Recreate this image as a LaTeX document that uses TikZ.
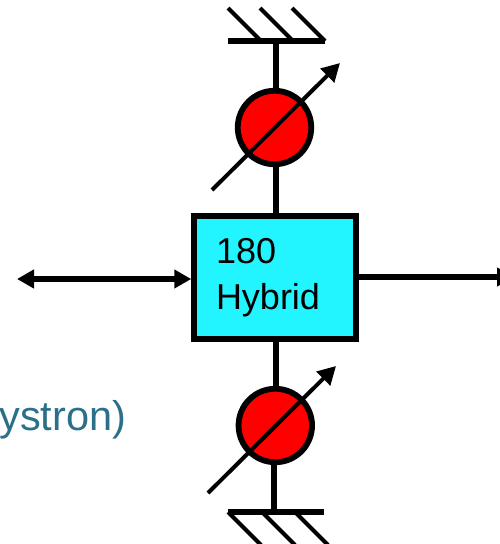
\documentclass[tikz,border=0pt]{standalone}
\usepackage{fontspec}
\setmainfont{Liberation Sans}
\usetikzlibrary{arrows.meta, positioning, calc}

\definecolor{hybridcyan}{HTML}{22F5FF}
\definecolor{labelteal}{HTML}{2A7089}

\begin{document}
\begin{tikzpicture}[
      x=1pt, y=-1pt,
      block/.style={draw, line width=5.5pt, rectangle, fill=hybridcyan, minimum width=162pt, minimum height=123pt, inner xsep=22pt, inner ysep=0pt, text width=118pt, align=left, font=\fontsize{36}{46}\selectfont},
      shifter/.style={draw, line width=5.8pt, circle, fill=red, minimum size=73.5pt, inner sep=0pt},
      stem/.style={line width=6pt},
      bar/.style={line width=6pt},
      hatch/.style={line width=4pt},
      tune/.style={-{Triangle[length=18pt, width=19pt]}, line width=4pt},
      port/.style={line width=5.5pt}
    ]
      \clip (0,0) rectangle (500,544);

      % Main block
      \node (hybrid) [block] at (275,277.5) {180\\Hybrid};

      % Phase shifters
      \node (phaseup) [shifter] at (274.5,127.5) {};
      \node (phasedown) [shifter] at (275.3,425.5) {};

      % Shorted ends
      \coordinate (wallup) at (276,41);
      \coordinate (walldown) at (274,512);

      \draw[bar] ($(wallup)+(-48,0)$) -- ($(wallup)+(49,0)$);
      \draw[bar] ($(walldown)+(-46,0)$) -- ($(walldown)+(50,0)$);
      \foreach \dx in {-48,-16,16} {
        \draw[hatch] ($(wallup)+(\dx,-33)$) -- ($(wallup)+(\dx+33,0)$);
      }
      \foreach \dx in {-46,-12,21} {
        \draw[hatch] ($(walldown)+(\dx,0)$) -- ($(walldown)+(\dx+33,33)$);
      }

      % Stems
      \draw[stem] (wallup) -- (wallup |- phaseup.north);
      \draw[stem] (wallup |- phaseup.south) -- (wallup |- hybrid.north);
      \draw[stem] (276,0 |- hybrid.south) -- (276,0 |- phasedown.north);
      \draw[stem] (walldown |- phasedown.south) -- (walldown);

      % Tuning arrows
      \coordinate (tuneupstart) at (212,190);
      \coordinate (tuneupend) at (340,63);
      \coordinate (tunedownstart) at (208,493);
      \coordinate (tunedownend) at (336,366);
      \draw[tune] (tuneupstart) -- (tuneupend);
      \draw[tune] (tunedownstart) -- (tunedownend);

      % Ports
      \coordinate (portin) at (17,279);
      \coordinate (portout) at (514,277);
      \draw[port, {Triangle[length=17pt, width=18pt]}-{Triangle[length=17pt, width=18pt]}] (portin) -- (portin -| hybrid.west);
      \draw[port, -{Triangle[length=17pt, width=18pt]}] (portout -| hybrid.east) -- (portout);

      % Cut-off label
      \node (klabel) [anchor=base east, inner sep=0pt, text=labelteal, font=\fontsize{41.5}{44}\selectfont] at (126.5,430) {ystron)};
    \end{tikzpicture}
\end{document}
